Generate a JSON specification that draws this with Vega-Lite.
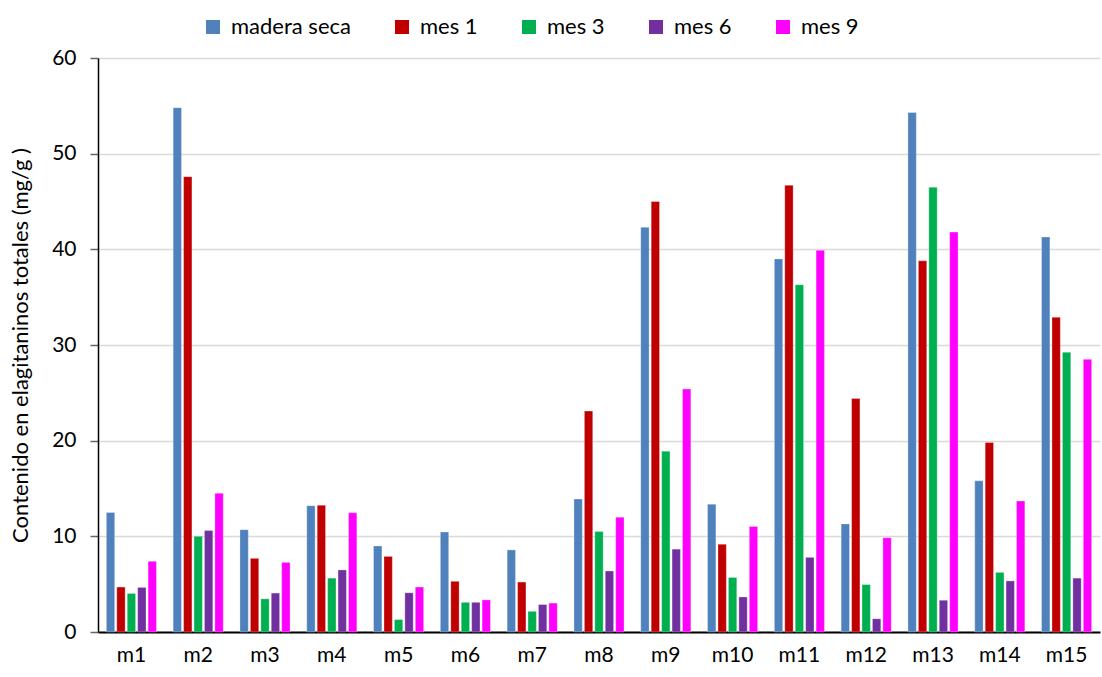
{
  "$schema": "https://vega.github.io/schema/vega-lite/v6.json",
  "width": 1002,
  "height": 574,
  "autosize": {"type": "none"},
  "padding": {"left": 98, "top": 58, "right": 2, "bottom": 45},
  "background": "white",
  "config": {
    "font": "Lato",
    "view": {"stroke": null}
  },
  "data": {
    "values": [
      {"m": "m1", "s": "madera seca", "v": 12.5}, {"m": "m1", "s": "mes 1", "v": 4.7}, {"m": "m1", "s": "mes 3", "v": 4.03}, {"m": "m1", "s": "mes 6", "v": 4.66}, {"m": "m1", "s": "mes 9", "v": 7.39},
      {"m": "m2", "s": "madera seca", "v": 54.8}, {"m": "m2", "s": "mes 1", "v": 47.6}, {"m": "m2", "s": "mes 3", "v": 10.0}, {"m": "m2", "s": "mes 6", "v": 10.6}, {"m": "m2", "s": "mes 9", "v": 14.5},
      {"m": "m3", "s": "madera seca", "v": 10.7}, {"m": "m3", "s": "mes 1", "v": 7.7}, {"m": "m3", "s": "mes 3", "v": 3.47}, {"m": "m3", "s": "mes 6", "v": 4.07}, {"m": "m3", "s": "mes 9", "v": 7.28},
      {"m": "m4", "s": "madera seca", "v": 13.2}, {"m": "m4", "s": "mes 1", "v": 13.25}, {"m": "m4", "s": "mes 3", "v": 5.63}, {"m": "m4", "s": "mes 6", "v": 6.49}, {"m": "m4", "s": "mes 9", "v": 12.46},
      {"m": "m5", "s": "madera seca", "v": 9.0}, {"m": "m5", "s": "mes 1", "v": 7.9}, {"m": "m5", "s": "mes 3", "v": 1.3}, {"m": "m5", "s": "mes 6", "v": 4.1}, {"m": "m5", "s": "mes 9", "v": 4.7},
      {"m": "m6", "s": "madera seca", "v": 10.45}, {"m": "m6", "s": "mes 1", "v": 5.3}, {"m": "m6", "s": "mes 3", "v": 3.1}, {"m": "m6", "s": "mes 6", "v": 3.1}, {"m": "m6", "s": "mes 9", "v": 3.36},
      {"m": "m7", "s": "madera seca", "v": 8.58}, {"m": "m7", "s": "mes 1", "v": 5.22}, {"m": "m7", "s": "mes 3", "v": 2.16}, {"m": "m7", "s": "mes 6", "v": 2.87}, {"m": "m7", "s": "mes 9", "v": 3.02},
      {"m": "m8", "s": "madera seca", "v": 13.9}, {"m": "m8", "s": "mes 1", "v": 23.1}, {"m": "m8", "s": "mes 3", "v": 10.5}, {"m": "m8", "s": "mes 6", "v": 6.38}, {"m": "m8", "s": "mes 9", "v": 12.0},
      {"m": "m9", "s": "madera seca", "v": 42.3}, {"m": "m9", "s": "mes 1", "v": 45.0}, {"m": "m9", "s": "mes 3", "v": 18.9}, {"m": "m9", "s": "mes 6", "v": 8.66}, {"m": "m9", "s": "mes 9", "v": 25.4},
      {"m": "m10", "s": "madera seca", "v": 13.36}, {"m": "m10", "s": "mes 1", "v": 9.18}, {"m": "m10", "s": "mes 3", "v": 5.7}, {"m": "m10", "s": "mes 6", "v": 3.66}, {"m": "m10", "s": "mes 9", "v": 11.04},
      {"m": "m11", "s": "madera seca", "v": 39.0}, {"m": "m11", "s": "mes 1", "v": 46.7}, {"m": "m11", "s": "mes 3", "v": 36.3}, {"m": "m11", "s": "mes 6", "v": 7.8}, {"m": "m11", "s": "mes 9", "v": 39.9},
      {"m": "m12", "s": "madera seca", "v": 11.3}, {"m": "m12", "s": "mes 1", "v": 24.4}, {"m": "m12", "s": "mes 3", "v": 4.96}, {"m": "m12", "s": "mes 6", "v": 1.38}, {"m": "m12", "s": "mes 9", "v": 9.85},
      {"m": "m13", "s": "madera seca", "v": 54.3}, {"m": "m13", "s": "mes 1", "v": 38.8}, {"m": "m13", "s": "mes 3", "v": 46.5}, {"m": "m13", "s": "mes 6", "v": 3.32}, {"m": "m13", "s": "mes 9", "v": 41.8},
      {"m": "m14", "s": "madera seca", "v": 15.8}, {"m": "m14", "s": "mes 1", "v": 19.8}, {"m": "m14", "s": "mes 3", "v": 6.23}, {"m": "m14", "s": "mes 6", "v": 5.34}, {"m": "m14", "s": "mes 9", "v": 13.7},
      {"m": "m15", "s": "madera seca", "v": 41.3}, {"m": "m15", "s": "mes 1", "v": 32.9}, {"m": "m15", "s": "mes 3", "v": 29.25}, {"m": "m15", "s": "mes 6", "v": 5.63}, {"m": "m15", "s": "mes 9", "v": 28.5}
    ]
  },
  "mark": {"type": "bar", "stroke": "white", "strokeWidth": 0.5, "strokeOpacity": 0.6},
  "encoding": {
    "x": {
      "field": "m", "type": "nominal", "sort": null,
      "scale": {"paddingInner": 0.25, "paddingOuter": 0.125},
      "axis": {"title": null, "labelAngle": 0, "labelFontSize": 21, "labelColor": "black", "ticks": false, "labelPadding": 12, "domainColor": "black", "domainWidth": 2}
    },
    "xOffset": {
      "field": "s", "type": "nominal",
      "sort": ["madera seca", "mes 1", "mes 3", "mes 6", "mes 9"],
      "scale": {"paddingInner": 0.2}
    },
    "y": {
      "field": "v", "type": "quantitative",
      "scale": {"domain": [0, 60], "nice": false},
      "axis": {
        "values": [0, 10, 20, 30, 40, 50, 60],
        "title": "Contenido en elagitaninos totales (mg/g )",
        "titleFontSize": 22, "titleFontWeight": "normal", "titleColor": "black", "titlePadding": 19,
        "labelFontSize": 21, "labelColor": "black", "labelPadding": 14,
        "tickColor": "#666", "tickSize": 8, "tickWidth": 1.5,
        "domainColor": "black", "domainWidth": 1.5,
        "gridColor": "#d9d9d9", "gridWidth": 1.5
      }
    },
    "color": {
      "field": "s", "type": "nominal",
      "scale": {
        "domain": ["madera seca", "mes 1", "mes 3", "mes 6", "mes 9"],
        "range": ["#4F81BD", "#C00000", "#00B050", "#7030A0", "#FF00FF"]
      },
      "legend": {
        "title": null, "orient": "none", "legendX": 104, "legendY": -42,
        "direction": "horizontal", "columns": 5, "columnPadding": 40,
        "symbolType": "square", "symbolSize": 196, "symbolStrokeWidth": 0, "symbolOpacity": 1,
        "labelFontSize": 22, "labelColor": "black", "labelOffset": 7
      }
    }
  }
}
